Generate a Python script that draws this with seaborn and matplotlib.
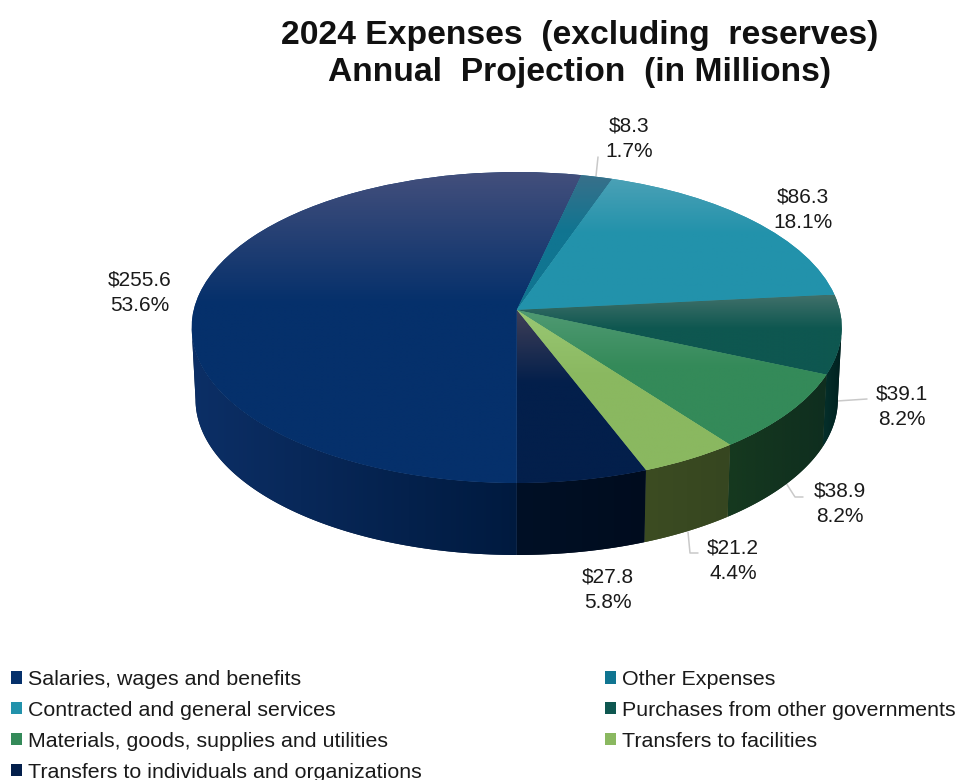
"""2024 expenses pie, drawn as a fake 3D disc on top of ax.pie."""
import matplotlib
matplotlib.use("Agg")
import matplotlib.pyplot as plt
from matplotlib.colors import LinearSegmentedColormap
from matplotlib.patches import Patch, Polygon
from matplotlib.transforms import Transform
import numpy as np
import seaborn as sns

categories = [
    "Salaries, wages and benefits",
    "Other Expenses",
    "Contracted and general services",
    "Purchases from other governments",
    "Materials, goods, supplies and utilities",
    "Transfers to facilities",
    "Transfers to individuals and organizations",
]
amounts = [255.6, 8.3, 86.3, 39.1, 38.9, 21.2, 27.8]
percents = [53.6, 1.7, 18.1, 8.2, 8.2, 4.4, 5.8]

base_colors = ["#05306b", "#107591", "#2292ab", "#0e5750", "#348a59", "#8ab860", "#031f4b"]
light_colors = ["#434f7c", "#38708a", "#4ba1b6", "#40706a", "#509a73", "#9ac874", "#403f57"]
side_left = ["#0c2f66", "#0a3040", "#0a3040", "#05302b", "#16391f", "#3c4c22", "#001026"]
side_right = ["#001a3f", "#0a3040", "#0a3040", "#00201f", "#0f2e1f", "#364620", "#000c1e"]

# text anchors, in image pixels
label_xy = [(140, 293), (629, 139), (803, 210), (902, 407), (840, 504), (733, 561), (608, 590)]
leaders = [
    [(598, 157), (596, 176)],
    [(837, 401), (867, 399)],
    [(786, 483), (795, 497), (803, 497)],
    [(688, 532), (690, 553), (698, 553)],
]

W, H = 961, 780
CX, CY = 516.7, 310.0
SCALE_X, SCALE_Y, K = 323.0, 153.5, 0.1125
DEPTH = 72.0


class Persp(Transform):
    """Tilts the unit circle of the pie into image pixels."""
    input_dims = 2
    output_dims = 2

    def __init__(self, shrink=1.0, drop=0.0):
        super().__init__()
        self.shrink = shrink
        self.drop = drop

    def transform_non_affine(self, values):
        values = np.asarray(values, dtype=float)
        d = 1 + K * values[:, 1]
        x = CX + self.shrink * SCALE_X * values[:, 0] / d
        y = CY + self.drop - SCALE_Y * values[:, 1] / d
        return np.column_stack([x, y])


def ring(theta, shrink=1.0, drop=0.0):
    t = np.radians(theta)
    return Persp(shrink, drop).transform(np.column_stack([np.cos(t), np.sin(t)]))


def gradient(ax, clip, extent, c0, c1, frac=1.0, vertical=True, zorder=2):
    cmap = LinearSegmentedColormap.from_list("g", [(0, c0), (frac, c1), (1, c1)])
    ramp = np.linspace(0, 1, 256)
    ramp = ramp[:, None] if vertical else ramp[None, :]
    im = ax.imshow(ramp, cmap=cmap, vmin=0, vmax=1, extent=extent, aspect="auto",
                   origin="upper", interpolation="bilinear", zorder=zorder)
    im.set_clip_path(clip)


sns.set_theme(style="white")
plt.rcParams["font.family"] = ["Liberation Sans", "DejaVu Sans"]
palette = sns.color_palette(base_colors)

fig = plt.figure(figsize=(W / 100, H / 100), dpi=100)
ax = fig.add_axes([0, 0, 1, 1])
wedges, _ = ax.pie(amounts, colors=palette, startangle=270, counterclock=False, radius=1.0,
                   wedgeprops={"linewidth": 0})
ax.set_aspect("auto")
ax.set_xlim(0, W)
ax.set_ylim(H, 0)
ax.axis("off")

# Side walls first, only the arc that faces the viewer
for wedge, c0, c1 in zip(wedges, side_left, side_right):
    for offset in (0, 360):
        lo = max(wedge.theta1, -173.5 + offset)
        hi = min(wedge.theta2, -6.5 + offset)
        if hi <= lo:
            continue
        theta = np.linspace(lo, hi, 80)
        top = ring(theta)
        bottom = ring(theta, 0.988, DEPTH)
        pts = np.vstack([top, bottom[::-1]])
        wall = Polygon(pts, closed=True, facecolor=c1, edgecolor="none", zorder=1)
        ax.add_patch(wall)
        extent = (pts[:, 0].min(), pts[:, 0].max(), pts[:, 1].max(), pts[:, 1].min())
        gradient(ax, wall, extent, c0, c1, vertical=False, zorder=2)

# Top face, each slice fading from light to its base colour
persp = Persp()
for wedge, c0, c1 in zip(wedges, light_colors, base_colors):
    wedge.set_transform(persp + ax.transData)
    wedge.set_zorder(3)
    theta = np.linspace(wedge.theta1, wedge.theta2, 120)
    pts = np.vstack([ring(theta), [[CX, CY]]])
    extent = (pts[:, 0].min(), pts[:, 0].max(), pts[:, 1].max(), pts[:, 1].min())
    gradient(ax, wedge, extent, c0, c1, frac=0.42, zorder=4)

for pts in leaders:
    ax.plot(*zip(*pts), color="#c9c9c9", lw=1.1, zorder=0.5)

for (x, y), amount, pct in zip(label_xy, amounts, percents):
    ax.text(x, y, f"${amount}\n{pct}%", ha="center", va="center", fontsize=15,
            color="#1a1a1a", linespacing=1.44, zorder=6)

# the source title has stretched word gaps, hence the double spaces
ax.text(579.5, 54, "2024 Expenses  (excluding  reserves)\nAnnual  Projection  (in Millions)",
        ha="center", va="center", fontsize=24.2, fontweight="bold", color="#111111",
        linespacing=1.25, zorder=6)

handles = [Patch(facecolor=c, edgecolor="none") for c in palette]
order = [0, 2, 4, 6, 1, 3, 5]
ax.legend([handles[i] for i in order], [categories[i] for i in order], ncol=2,
          loc="upper left", bbox_to_anchor=(11, 670), bbox_transform=ax.transData,
          frameon=False, fontsize=15.4, borderpad=0, borderaxespad=0,
          handlelength=0.5, handleheight=0.5, handletextpad=0.28,
          labelspacing=0.56, columnspacing=8.6, labelcolor="#1a1a1a")

fig.savefig("out.png", dpi=100, facecolor="white")
